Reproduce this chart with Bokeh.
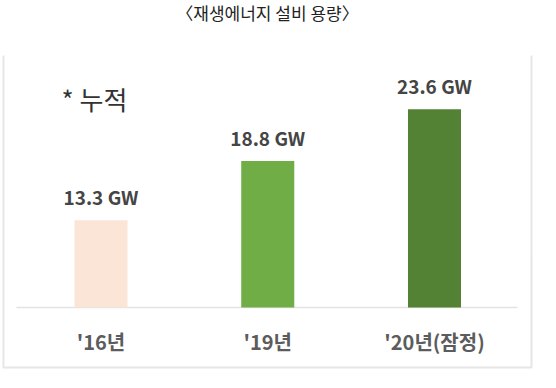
from bokeh.plotting import figure
from bokeh.models import ColumnDataSource, Range1d
from bokeh.core.properties import value
from bokeh.embed import file_html
from bokeh.resources import INLINE

# ---- data ----
categories = ["'16년", "'19년", "'20년(잠정)"]
capacity_gw = [13.3, 18.8, 23.6]
value_labels = ["13.3 GW", "18.8 GW", "23.6 GW"]
bar_colors = ["#FBE5D6", "#70AD47", "#548235"]
title_text = "〈재생에너지 설비 용량〉"
note_text = "* 누적"
axis_start = 5.21  # value at the baseline of the original chart

# ---- layout constants (pixels within figure) ----
W, H = 540, 372
unit_px = 166.75          # px per category
first_center_px = 100.5   # x of first category centre
px_per_gw = 10.78
baseline_px = 307         # from top

x0 = -first_center_px / unit_px
x1 = x0 + W / unit_px
y_top = axis_start + baseline_px / px_per_gw
y_bot = axis_start - (H - baseline_px) / px_per_gw

def px_x(px):
    return x0 + px / unit_px

def px_y(py):
    return axis_start + (baseline_px - py) / px_per_gw

p = figure(width=W, height=H, output_backend="svg", toolbar_location=None,
           x_range=Range1d(x0, x1), y_range=Range1d(y_bot, y_top),
           min_border=0, min_border_left=0, min_border_right=0,
           min_border_top=0, min_border_bottom=0)
p.axis.visible = False
p.grid.visible = False
p.outline_line_color = None
p.background_fill_color = "white"
p.border_fill_color = "white"

idx = list(range(len(categories)))
src = ColumnDataSource(dict(x=idx, top=capacity_gw, cat=categories,
                            lab=value_labels, color=bar_colors,
                            base=[axis_start] * len(idx)))

# box border (left, right, bottom)
bx_l, bx_r = px_x(3), px_x(531)
by_t, by_b = px_y(55), px_y(367)
p.line([bx_l, bx_l, bx_r, bx_r], [by_t, by_b, by_b, by_t],
       line_color="#E6E6E6", line_width=2)

# baseline
p.line([px_x(16), px_x(517)], [axis_start, axis_start],
       line_color="#E3E3E3", line_width=1.5)

# bars
p.vbar(x="x", top="top", bottom="base", width=0.318, source=src,
       fill_color="color", line_color=None)

# value labels
p.text(x="x", y="top", text="lab", source=src, y_offset=-10,
       text_align="center", text_baseline="bottom",
       text_font=value("Noto Sans CJK KR"), text_font_style="bold",
       text_font_size="19px", text_color="#454545")

# category labels
p.text(x="x", y="base", text="cat", source=src, y_offset=34,
       text_align="center", text_baseline="middle",
       text_font=value("Noto Sans CJK KR"), text_font_style="bold",
       text_font_size="20px", text_color="#5C5C5C")

# note
p.text(x=[px_x(61)], y=[px_y(98)], text=[note_text],
       text_align="left", text_baseline="middle",
       text_font=value("Noto Sans CJK KR"), text_font_size="26px",
       text_color="#333333")

# title
p.text(x=[px_x(267)], y=[px_y(12)], text=[title_text],
       text_align="center", text_baseline="middle",
       text_font=value("Noto Sans CJK KR"), text_font_size="17px",
       text_color="#222222")

open("out.html", "w").write(file_html(p, INLINE))
